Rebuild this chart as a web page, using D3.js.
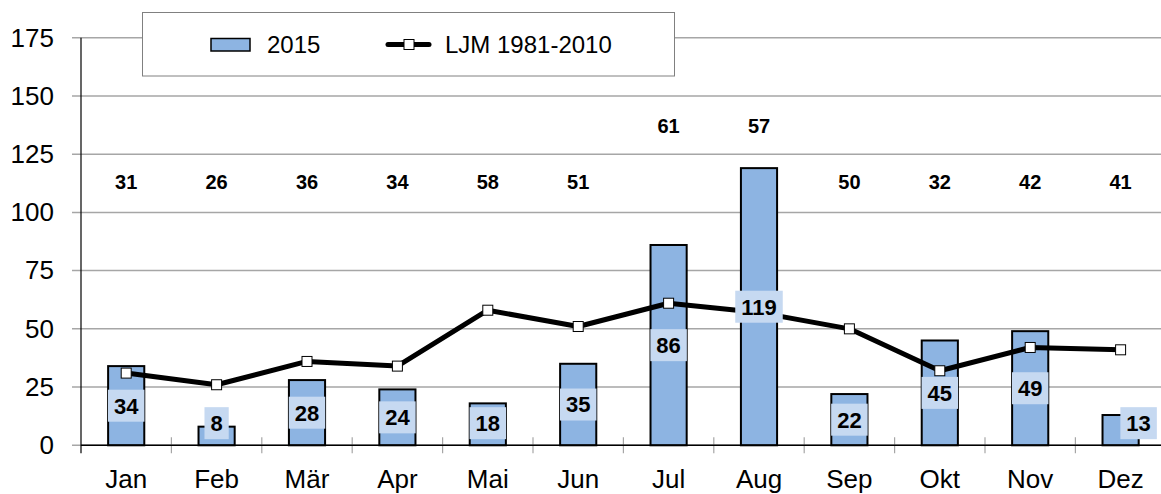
<!DOCTYPE html>
<html>
<head>
<meta charset="utf-8">
<script src="https://cdn.jsdelivr.net/npm/d3@7"></script>
<style>
  body { margin: 0; background: #fff; }
  text { font-family: "Liberation Sans", Arial, sans-serif; }
</style>
</head>
<body>
<div class="chart"></div>
<script>
// monthly values: bars = 2015, line = long-term mean 1981-2010
var months = ["Jan", "Feb", "Mär", "Apr", "Mai", "Jun", "Jul", "Aug", "Sep", "Okt", "Nov", "Dez"];
var values2015 = [34, 8, 28, 24, 18, 35, 86, 119, 22, 45, 49, 13];
var valuesLJM = [31, 26, 36, 34, 58, 51, 61, 57, 50, 32, 42, 41];
var yTicks = [0, 25, 50, 75, 100, 125, 150, 175];
var seriesNames = ["2015", "LJM 1981-2010"];

var svgWidth = 1161;
var svgHeight = 494;

var margin = { top: 37.7, right: 0, bottom: 48.7, left: 81 };
var height = svgHeight - margin.top - margin.bottom;
var step = 90.4;
var width = step * months.length;

var svg = d3.select(".chart")
    .append("svg")
    .attr("width", svgWidth)
    .attr("height", svgHeight);

var chart = svg.append("g")
    .attr("transform", "translate(" + margin.left + "," + margin.top + ")");

// scales
var xBandScale = d3.scaleBand()
    .domain(months)
    .range([0, width])
    .paddingInner(0.6)
    .paddingOuter(0.3);

var yLinearScale = d3.scaleLinear()
    .domain([0, 175])
    .range([height, 0]);

var cx = function(d, i) { return xBandScale(months[i]) + xBandScale.bandwidth() / 2; };

// gridlines
chart.append("g")
    .selectAll("line")
    .data(yTicks)
    .enter().append("line")
    .attr("x1", -9)
    .attr("x2", svgWidth)
    .attr("y1", function(d) { return yLinearScale(d); })
    .attr("y2", function(d) { return yLinearScale(d); })
    .attr("stroke", "#a6a6a6")
    .attr("stroke-width", 1.5);

// y axis
var leftAxis = d3.axisLeft(yLinearScale).tickValues(yTicks).tickSize(0).tickPadding(27);
var yAxis = chart.append("g").call(leftAxis);
yAxis.select(".domain").remove();
yAxis.selectAll("text")
    .attr("font-size", 26)
    .attr("fill", "#000")
    .style("font-family", "Liberation Sans, Arial, sans-serif");

chart.append("line")
    .attr("x1", 0).attr("x2", 0)
    .attr("y1", 0).attr("y2", height + 8)
    .attr("stroke", "#000")
    .attr("stroke-width", 1.2);

// x axis category separators
chart.append("g")
    .selectAll("line")
    .data(months.slice(1))
    .enter().append("line")
    .attr("x1", function(d) { return xBandScale(d) - xBandScale.step() * 0.3; })
    .attr("x2", function(d) { return xBandScale(d) - xBandScale.step() * 0.3; })
    .attr("y1", height - 8)
    .attr("y2", height + 8)
    .attr("stroke", "#a6a6a6")
    .attr("stroke-width", 1.2);

// bars
chart.append("g")
    .selectAll("rect")
    .data(values2015)
    .enter().append("rect")
    .attr("x", function(d, i) { return xBandScale(months[i]); })
    .attr("y", function(d) { return yLinearScale(d); })
    .attr("width", xBandScale.bandwidth())
    .attr("height", function(d) { return height - yLinearScale(d); })
    .attr("fill", "#8db4e2")
    .attr("stroke", "#000")
    .attr("stroke-width", 2);

// x axis line
chart.append("line")
    .attr("x1", 0).attr("x2", svgWidth)
    .attr("y1", height).attr("y2", height)
    .attr("stroke", "#000")
    .attr("stroke-width", 1.5);

var bottomAxis = d3.axisBottom(xBandScale).tickSize(0).tickPadding(24);
var xAxis = chart.append("g")
    .attr("transform", "translate(0," + height + ")")
    .call(bottomAxis);
xAxis.select(".domain").remove();
xAxis.selectAll("text")
    .attr("font-size", 26)
    .attr("fill", "#000")
    .style("font-family", "Liberation Sans, Arial, sans-serif");

// line series
var line = d3.line()
    .x(cx)
    .y(function(d) { return yLinearScale(d); });

chart.append("path")
    .datum(valuesLJM)
    .attr("d", line)
    .attr("fill", "none")
    .attr("stroke", "#000")
    .attr("stroke-width", 5)
    .attr("stroke-linejoin", "round");

chart.append("g")
    .selectAll("rect")
    .data(valuesLJM)
    .enter().append("rect")
    .attr("x", function(d, i) { return cx(d, i) - 5; })
    .attr("y", function(d) { return yLinearScale(d) - 5; })
    .attr("width", 10)
    .attr("height", 10)
    .attr("fill", "#fff")
    .attr("stroke", "#000")
    .attr("stroke-width", 1);

// bar labels (boxed, centered in bar)
var barLabels = chart.append("g")
    .selectAll("g")
    .data(values2015)
    .enter().append("g")
    .attr("transform", function(d, i) {
        var x = cx(d, i) + (i === months.length - 1 ? 18 : 0);
        var y = yLinearScale(Math.max(d / 2, 9.5));
        return "translate(" + x + "," + y + ")";
    });

barLabels.append("text")
    .attr("text-anchor", "middle")
    .attr("dy", "0.36em")
    .attr("font-size", 22)
    .attr("font-weight", "bold")
    .text(function(d) { return d; });

barLabels.each(function() {
    var g = d3.select(this);
    var w = g.select("text").node().getComputedTextLength() + 12;
    g.insert("rect", "text")
        .attr("x", -w / 2)
        .attr("y", -16)
        .attr("width", w)
        .attr("height", 32)
        .attr("fill", "#c6d9f1");
});

// line labels along the top
chart.append("g")
    .selectAll("text")
    .data(valuesLJM)
    .enter().append("text")
    .attr("x", cx)
    .attr("y", function(d, i) { return yLinearScale(values2015[i] > 80 ? 137 : 113); })
    .attr("dy", "0.36em")
    .attr("text-anchor", "middle")
    .attr("font-size", 20)
    .attr("font-weight", "bold")
    .text(function(d) { return d; });

// legend
var legend = svg.append("g");
legend.append("rect")
    .attr("x", 142.5).attr("y", 12.5)
    .attr("width", 532).attr("height", 63.5)
    .attr("fill", "#fff")
    .attr("stroke", "#808080")
    .attr("stroke-width", 1);

legend.append("rect")
    .attr("x", 211).attr("y", 38.5)
    .attr("width", 39).attr("height", 12.5)
    .attr("fill", "#8db4e2")
    .attr("stroke", "#000")
    .attr("stroke-width", 1.5);

legend.append("text")
    .attr("x", 267).attr("y", 52.5)
    .attr("font-size", 24)
    .text(seriesNames[0]);

legend.append("line")
    .attr("x1", 388).attr("x2", 429)
    .attr("y1", 44.5).attr("y2", 44.5)
    .attr("stroke", "#000")
    .attr("stroke-width", 5)
    .attr("stroke-linecap", "round");

legend.append("rect")
    .attr("x", 404).attr("y", 39.5)
    .attr("width", 10).attr("height", 10)
    .attr("fill", "#fff")
    .attr("stroke", "#000")
    .attr("stroke-width", 1);

legend.append("text")
    .attr("x", 445).attr("y", 52.5)
    .attr("font-size", 24)
    .text(seriesNames[1]);
</script>
</body>
</html>
